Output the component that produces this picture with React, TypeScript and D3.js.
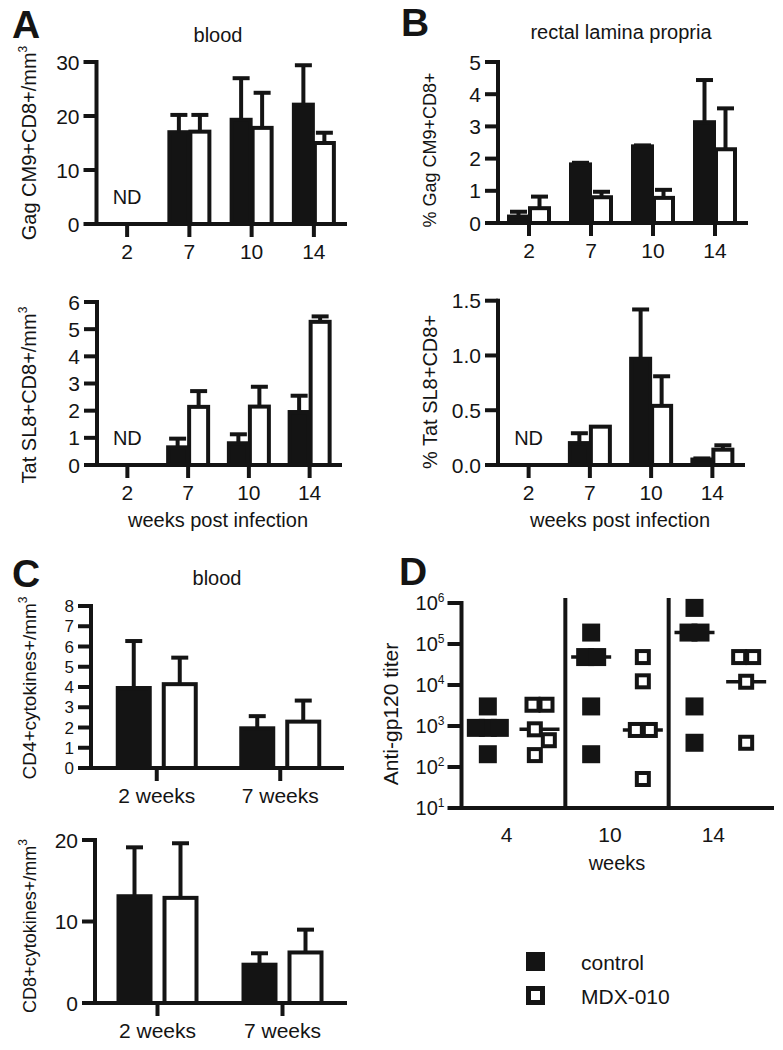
import React from 'react';
import * as d3 from 'd3';

const FONT = '"Liberation Sans", Arial, Helvetica, sans-serif';
const INK = '#141414';
const SW = 4;

// ---------- Panels A / B : weeks post infection ----------
const weeksAB = ['2', '7', '10', '14'];

const bloodGagControl = [null, 17.0, 19.3, 22.1];
const bloodGagControlSem = [null, 3.2, 7.7, 7.3];
const bloodGagMdx = [null, 17.1, 17.8, 15.0];
const bloodGagMdxSem = [null, 3.1, 6.5, 1.9];
const bloodGagTicks = [0, 10, 20, 30];

const bloodTatControl = [null, 0.65, 0.8, 1.95];
const bloodTatControlSem = [null, 0.32, 0.33, 0.6];
const bloodTatMdx = [null, 2.14, 2.15, 5.27];
const bloodTatMdxSem = [null, 0.58, 0.73, 0.2];
const bloodTatTicks = [0, 1, 2, 3, 4, 5, 6];

const rectalGagControl = [0.2, 1.82, 2.38, 3.13];
const rectalGagControlSem = [0.15, 0.05, 0.03, 1.31];
const rectalGagMdx = [0.46, 0.8, 0.78, 2.29];
const rectalGagMdxSem = [0.36, 0.17, 0.25, 1.27];
const rectalGagTicks = [0, 1, 2, 3, 4, 5];

const rectalTatControl = [null, 0.2, 0.97, 0.05];
const rectalTatControlSem = [null, 0.09, 0.45, 0.01];
const rectalTatMdx = [null, 0.35, 0.54, 0.14];
const rectalTatMdxSem = [null, 0, 0.27, 0.04];
const rectalTatTicks = [0, 0.5, 1.0, 1.5];

// ---------- Panel C : cytokine producing cells ----------
const weeksC = ['2 weeks', '7 weeks'];
const cd4Control = [3.95, 1.96];
const cd4ControlSem = [2.32, 0.6];
const cd4Mdx = [4.14, 2.29];
const cd4MdxSem = [1.31, 1.04];
const cd4Ticks = [0, 1, 2, 3, 4, 5, 6, 7, 8];

const cd8Control = [13.1, 4.7];
const cd8ControlSem = [6.0, 1.4];
const cd8Mdx = [12.9, 6.2];
const cd8MdxSem = [6.7, 2.8];
const cd8Ticks = [0, 10, 20];

// ---------- Panel D : anti-gp120 titers ----------
const titerWeeks = ['4', '10', '14'];
const groups = ['control', 'MDX-010'];
const titerControlWk4 = [3000, 900, 900, 900, 205];
const titerControlWk10 = [190000, 48000, 48000, 3000, 205];
const titerControlWk14 = [760000, 190000, 190000, 3000, 390];
const titerMdxWk4 = [3300, 3300, 830, 450, 195];
const titerMdxWk10 = [48000, 12300, 800, 800, 51];
const titerMdxWk14 = [48000, 48000, 12000, 390];
const titerMedianControl = [900, 48000, 190000];
const titerMedianMdx = [830, 800, 12000];
const titerTicks = [1e1, 1e2, 1e3, 1e4, 1e5, 1e6];

type Num = number | null;

type BarProps = {
  cats: string[];
  ctrl: Num[];
  ctrlSem: Num[];
  mdx: Num[];
  mdxSem: Num[];
  ticks: number[];
  fmt: (v: number) => string;
  domainMax: number;
  axisX: number;
  range: [number, number];
  yTop: number;
  yBottom: number;
  ow: number;
  gap: number;
  cap: number;
  ylabel: string;
  ysup?: string;
  ylabelX: number;
  ylabelY: number;
  ylabelSize: number;
  tickSize?: number;
};

function BarPanel(p: BarProps) {
  const x = d3.scaleBand<string>().domain(p.cats).range(p.range);
  const y = d3.scaleLinear().domain([0, p.domainMax]).range([p.yBottom, p.yTop]);
  const tickSize = p.tickSize ?? 21;
  const series = [
    { vals: p.mdx, sem: p.mdxSem, fill: '#fff', side: 1 },
    { vals: p.ctrl, sem: p.ctrlSem, fill: INK, side: -1 },
  ];
  const bars: React.ReactNode[] = [];
  const errs: React.ReactNode[] = [];
  const nds: React.ReactNode[] = [];
  p.cats.forEach((c, i) => {
    const cx = (x(c) as number) + x.bandwidth() / 2;
    if (p.ctrl[i] == null && p.mdx[i] == null) {
      nds.push(
        <text key={'nd' + i} x={cx} y={p.yBottom - 20} textAnchor="middle" fontSize={20} fill={INK}>
          ND
        </text>
      );
    }
    series.forEach((s, si) => {
      const v = s.vals[i];
      if (v == null) return;
      const left = s.side < 0 ? cx - p.gap / 2 - p.ow : cx + p.gap / 2;
      const bx = left + p.ow / 2;
      bars.push(
        <rect
          key={`b${i}-${si}`}
          x={left + SW / 2}
          y={y(v)}
          width={p.ow - SW}
          height={Math.max(0, y(0) - y(v))}
          fill={s.fill}
          stroke={INK}
          strokeWidth={SW}
        />
      );
      const e = s.sem[i];
      if (e != null && e > 0) {
        const yt = y(v + e);
        errs.push(
          <g key={`e${i}-${si}`} stroke={INK} strokeWidth={SW}>
            <line x1={bx} x2={bx} y1={y(v)} y2={yt} />
            <line x1={bx - p.cap / 2} x2={bx + p.cap / 2} y1={yt} y2={yt} />
          </g>
        );
      }
    });
  });
  return (
    <g>
      {bars}
      {errs}
      {nds}
      <line x1={p.axisX} x2={p.axisX} y1={p.yTop} y2={p.yBottom} stroke={INK} strokeWidth={SW} strokeLinecap="square" />
      <line x1={p.axisX} x2={p.range[1]} y1={p.yBottom} y2={p.yBottom} stroke={INK} strokeWidth={SW} strokeLinecap="square" />
      {p.ticks.map((t) => (
        <g key={'yt' + t}>
          <line x1={p.axisX - 13} x2={p.axisX} y1={y(t)} y2={y(t)} stroke={INK} strokeWidth={SW} />
          <text x={p.axisX - 17} y={y(t)} dy="0.36em" textAnchor="end" fontSize={tickSize} fill={INK}>
            {p.fmt(t)}
          </text>
        </g>
      ))}
      {p.cats.map((c) => {
        const cx = (x(c) as number) + x.bandwidth() / 2;
        return (
          <g key={'xt' + c}>
            <line x1={cx} x2={cx} y1={p.yBottom} y2={p.yBottom + 13} stroke={INK} strokeWidth={SW} />
            <text x={cx} y={p.yBottom + 35} textAnchor="middle" fontSize={21} fill={INK}>
              {c}
            </text>
          </g>
        );
      })}
      <text
        transform={`translate(${p.ylabelX},${p.ylabelY}) rotate(-90)`}
        textAnchor="middle"
        fontSize={p.ylabelSize}
        fill={INK}
      >
        {p.ylabel}
        {p.ysup ? (
          <tspan dy={-9} fontSize={12}>
            {p.ysup}
          </tspan>
        ) : null}
      </text>
    </g>
  );
}

// simple beeswarm: spread overlapping points sideways, then recentre each cluster
function spread(ys: number[], step: number, size: number): number[] {
  const offs: number[] = [];
  const cands = [0, step, -step, 2 * step, -2 * step, 3 * step, -3 * step];
  ys.forEach((yy, i) => {
    for (const c of cands) {
      let ok = true;
      for (let j = 0; j < i; j++) {
        if (Math.abs(ys[j] - yy) < size && Math.abs(offs[j] - c) < step - 0.01) {
          ok = false;
          break;
        }
      }
      if (ok) {
        offs.push(c);
        break;
      }
    }
  });
  const parent = ys.map((_, i) => i);
  const find = (i: number): number => (parent[i] === i ? i : (parent[i] = find(parent[i])));
  for (let i = 0; i < ys.length; i++)
    for (let j = i + 1; j < ys.length; j++)
      if (Math.abs(ys[i] - ys[j]) < size) parent[find(i)] = find(j);
  const sums = new Map<number, [number, number]>();
  ys.forEach((_, i) => {
    const r = find(i);
    const s = sums.get(r) || [0, 0];
    sums.set(r, [s[0] + offs[i], s[1] + 1]);
  });
  return offs.map((o, i) => {
    const s = sums.get(find(i)) as [number, number];
    return o - s[0] / s[1];
  });
}

function TiterPanel() {
  const axisX = 461.5;
  const xEnd = 772;
  const yTop = 603;
  const yBottom = 808;
  const cols = titerWeeks.flatMap((w) => groups.map((g) => `${w}|${g}`));
  const x = d3.scaleBand<string>().domain(cols).range([462, xEnd]);
  const y = d3.scaleLog().domain([10, 1e6]).range([yBottom, yTop]);
  const controlSets = [titerControlWk4, titerControlWk10, titerControlWk14];
  const mdxSets = [titerMdxWk4, titerMdxWk10, titerMdxWk14];
  const FS = 18; // filled square
  const OS = 16; // open square (outer)

  const medians: React.ReactNode[] = [];
  const pts: React.ReactNode[] = [];
  titerWeeks.forEach((w, wi) => {
    [
      { set: controlSets[wi], med: titerMedianControl[wi], g: groups[0], open: false },
      { set: mdxSets[wi], med: titerMedianMdx[wi], g: groups[1], open: true },
    ].forEach((s) => {
      const key = `${w}|${s.g}`;
      const cx = (x(key) as number) + x.bandwidth() / 2;
      medians.push(
        <line key={'m' + key} x1={cx - 20} x2={cx + 20} y1={y(s.med)} y2={y(s.med)} stroke={INK} strokeWidth={3.5} />
      );
      const ys = s.set.map((v) => y(v));
      const offs = spread(ys, s.open ? 14 : 12, s.open ? OS : FS);
      ys.forEach((py, i) => {
        const px = cx + offs[i];
        pts.push(
          s.open ? (
            <rect key={`p${key}${i}`} x={px - OS / 2 + 2} y={py - OS / 2 + 2} width={OS - 4} height={OS - 4} fill="#fff" stroke={INK} strokeWidth={4} />
          ) : (
            <rect key={`p${key}${i}`} x={px - FS / 2} y={py - FS / 2} width={FS} height={FS} fill={INK} />
          )
        );
      });
    });
  });
  const seps = titerWeeks.slice(1).map((w) => x(`${w}|${groups[0]}`) as number);
  const groupCenters = titerWeeks.map(
    (w) => ((x(`${w}|${groups[0]}`) as number) + (x(`${w}|${groups[1]}`) as number) + x.bandwidth()) / 2
  );
  return (
    <g>
      {seps.map((sx) => (
        <line key={'s' + sx} x1={sx} x2={sx} y1={598} y2={yBottom} stroke={INK} strokeWidth={4} />
      ))}
      {medians}
      {pts}
      <line x1={axisX} x2={axisX} y1={yTop} y2={yBottom} stroke={INK} strokeWidth={SW} strokeLinecap="square" />
      <line x1={axisX} x2={xEnd} y1={yBottom} y2={yBottom} stroke={INK} strokeWidth={SW} strokeLinecap="square" />
      {titerTicks.map((t) => (
        <g key={'t' + t}>
          <line x1={axisX - 14} x2={axisX} y1={y(t)} y2={y(t)} stroke={INK} strokeWidth={SW} />
          <text x={axisX - 17} y={y(t)} dy="0.36em" textAnchor="end" fontSize={20} fill={INK}>
            10
            <tspan dy={-8} fontSize={12}>
              {Math.round(Math.log10(t))}
            </tspan>
          </text>
        </g>
      ))}
      {titerWeeks.map((w, i) => (
        <text key={'g' + w} x={groupCenters[i] - 7} y={yBottom + 34} textAnchor="middle" fontSize={21} fill={INK}>
          {w}
        </text>
      ))}
      <text x={groupCenters[1]} y={870} textAnchor="middle" fontSize={20} fill={INK}>
        weeks
      </text>
      <text transform={`translate(398,714) rotate(-90)`} textAnchor="middle" fontSize={21} fill={INK}>
        Anti-gp120 titer
      </text>
      {/* legend */}
      <rect x={526} y={952} width={19} height={19} fill={INK} />
      <text x={581} y={970} fontSize={21} fill={INK}>
        {groups[0]}
      </text>
      <rect x={528.5} y={988.5} width={14} height={14} fill="#fff" stroke={INK} strokeWidth={5} />
      <text x={581} y={1004} fontSize={21} fill={INK}>
        {groups[1]}
      </text>
    </g>
  );
}

const fmtInt = (v: number) => d3.format('d')(v);
const fmt1 = (v: number) => d3.format('.1f')(v);

export default function App() {
  return (
    <svg
      width={783}
      height={1050}
      viewBox="0 0 783 1050"
      style={{ position: 'absolute', left: 0, top: 0, background: '#fff' }}
      fontFamily={FONT}
    >
      <rect width={783} height={1050} fill="#fff" />
      {/* panel letters */}
      <g fontWeight="bold" fontSize={39} fill={INK}>
        <text x={12} y={38}>A</text>
        <text x={401} y={36}>B</text>
        <text x={12} y={587}>C</text>
        <text x={399} y={585}>D</text>
      </g>
      {/* titles */}
      <text x={218} y={42} textAnchor="middle" fontSize={20} fill={INK}>blood</text>
      <text x={621} y={39} textAnchor="middle" fontSize={20} fill={INK}>rectal lamina propria</text>
      <text x={217} y={585} textAnchor="middle" fontSize={20} fill={INK}>blood</text>
      <text x={218} y={527} textAnchor="middle" fontSize={20} fill={INK}>weeks post infection</text>
      <text x={620} y={527} textAnchor="middle" fontSize={20} fill={INK}>weeks post infection</text>

      <BarPanel
        cats={weeksAB}
        ctrl={bloodGagControl}
        ctrlSem={bloodGagControlSem}
        mdx={bloodGagMdx}
        mdxSem={bloodGagMdxSem}
        ticks={bloodGagTicks}
        fmt={fmtInt}
        domainMax={30}
        axisX={96.5}
        range={[96, 345]}
        yTop={62}
        yBottom={224}
        ow={23}
        gap={-2}
        cap={17}
        ylabel="Gag CM9+CD8+/mm"
        ysup="3"
        ylabelX={36}
        ylabelY={143}
        ylabelSize={20}
      />
      <BarPanel
        cats={weeksAB}
        ctrl={bloodTatControl}
        ctrlSem={bloodTatControlSem}
        mdx={bloodTatMdx}
        mdxSem={bloodTatMdxSem}
        ticks={bloodTatTicks}
        fmt={fmtInt}
        domainMax={6}
        axisX={97}
        range={[97, 340]}
        yTop={302}
        yBottom={465}
        ow={23}
        gap={-2}
        cap={17}
        ylabel="Tat  SL8+CD8+/mm"
        ysup="3"
        ylabelX={36}
        ylabelY={395}
        ylabelSize={20}
      />
      <BarPanel
        cats={weeksAB}
        ctrl={rectalGagControl}
        ctrlSem={rectalGagControlSem}
        mdx={rectalGagMdx}
        mdxSem={rectalGagMdxSem}
        ticks={rectalGagTicks}
        fmt={fmtInt}
        domainMax={5}
        axisX={498}
        range={[498, 746]}
        yTop={62}
        yBottom={223}
        ow={23}
        gap={-2}
        cap={17}
        ylabel="% Gag CM9+CD8+"
        ylabelX={436}
        ylabelY={150}
        ylabelSize={18}
      />
      <BarPanel
        cats={weeksAB}
        ctrl={rectalTatControl}
        ctrlSem={rectalTatControlSem}
        mdx={rectalTatMdx}
        mdxSem={rectalTatMdxSem}
        ticks={rectalTatTicks}
        fmt={fmt1}
        domainMax={1.5}
        axisX={498}
        range={[498, 743]}
        yTop={300.7}
        yBottom={465}
        ow={23}
        gap={-2}
        cap={17}
        ylabel="% Tat SL8+CD8+"
        ylabelX={437}
        ylabelY={392}
        ylabelSize={20}
      />
      <BarPanel
        cats={weeksC}
        ctrl={cd4Control}
        ctrlSem={cd4ControlSem}
        mdx={cd4Mdx}
        mdxSem={cd4MdxSem}
        ticks={cd4Ticks}
        fmt={fmtInt}
        domainMax={8}
        axisX={91}
        range={[95, 342]}
        yTop={606}
        yBottom={768}
        ow={36}
        gap={10}
        cap={17}
        ylabel="CD4+cytokines+/mm"
        ysup="3"
        ylabelX={36}
        ylabelY={688}
        ylabelSize={19}
        tickSize={17}
      />
      <BarPanel
        cats={weeksC}
        ctrl={cd8Control}
        ctrlSem={cd8ControlSem}
        mdx={cd8Mdx}
        mdxSem={cd8MdxSem}
        ticks={cd8Ticks}
        fmt={fmtInt}
        domainMax={20}
        axisX={95}
        range={[95, 345]}
        yTop={840}
        yBottom={1003}
        ow={36}
        gap={10}
        cap={17}
        ylabel="CD8+cytokines+/mm"
        ysup="3"
        ylabelX={36}
        ylabelY={926}
        ylabelSize={18}
      />
      <TiterPanel />
    </svg>
  );
}
